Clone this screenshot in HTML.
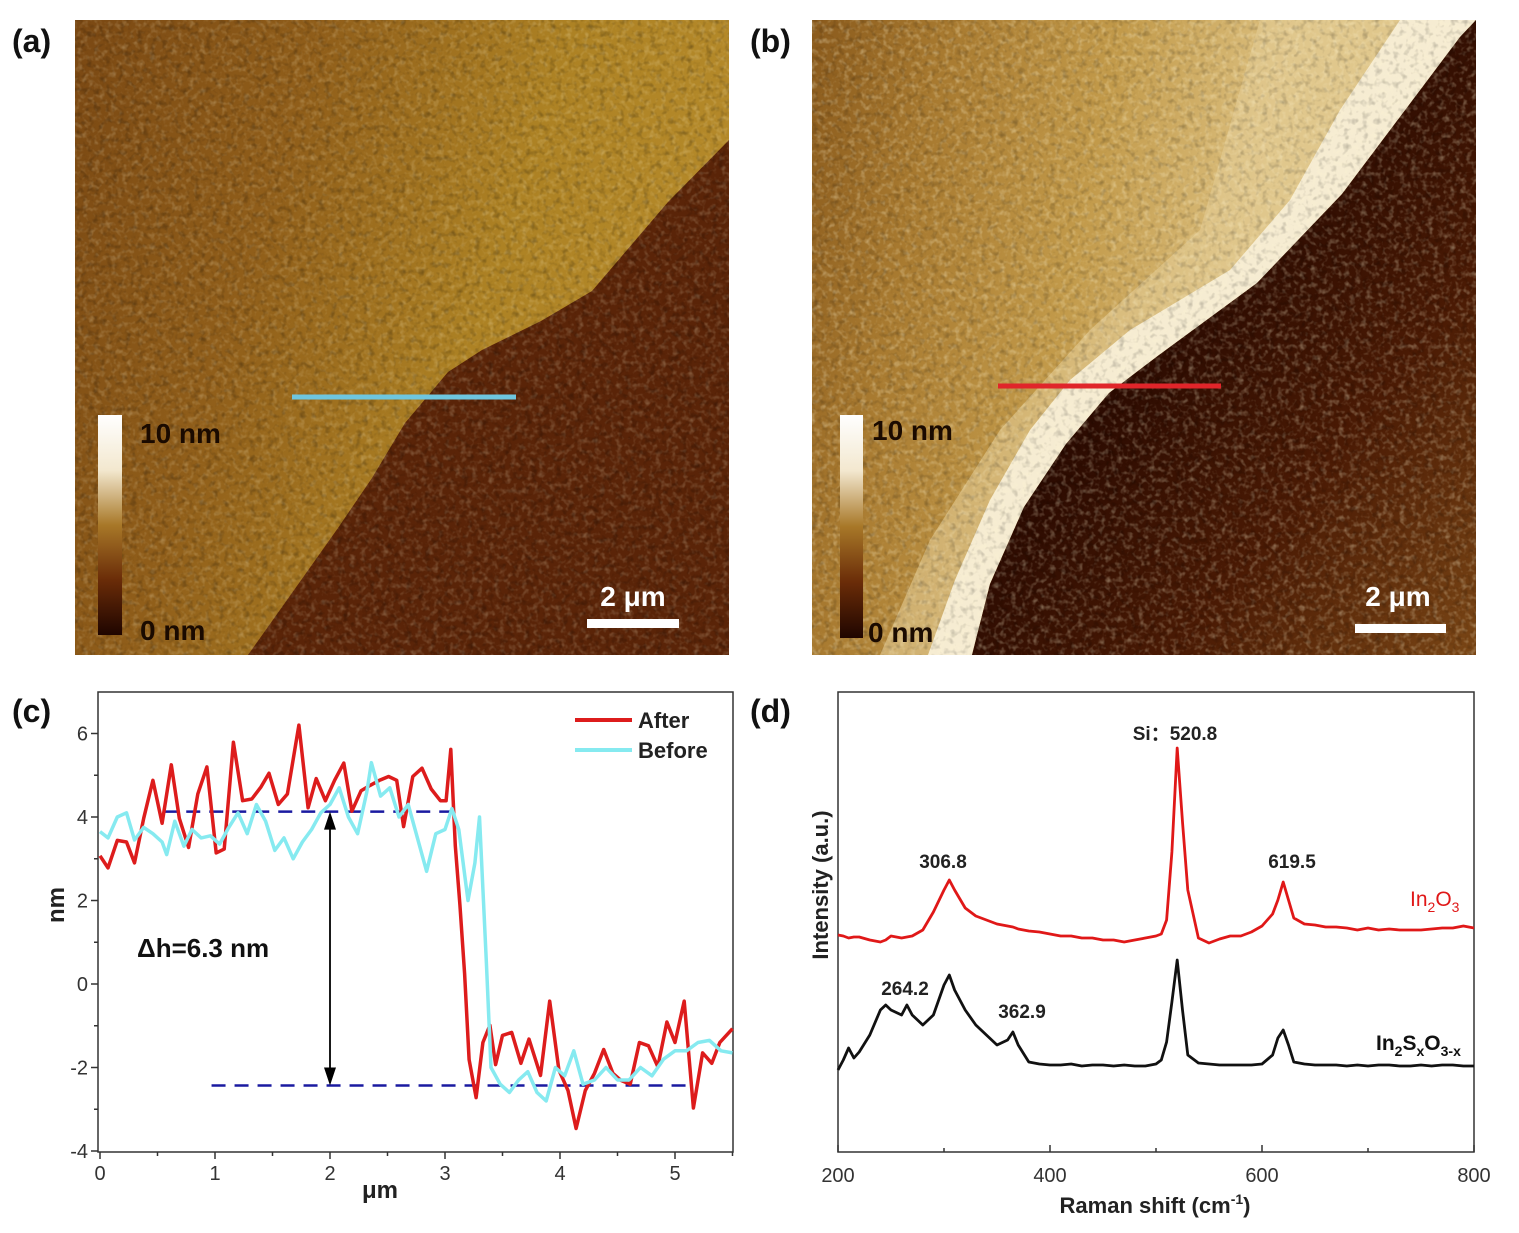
<!DOCTYPE html>
<html><head><meta charset="utf-8"><style>
body{margin:0;background:#fff;}
svg{display:block;font-family:"Liberation Sans",Arial,sans-serif;}
</style></head><body>
<svg id="fig" width="1519" height="1233" viewBox="0 0 1519 1233">
<defs>
<filter id="noise" x="0" y="0" width="100%" height="100%">
<feTurbulence type="fractalNoise" baseFrequency="0.18" numOctaves="2" seed="3" result="t"/>
<feColorMatrix type="matrix" values="0 0 0 0 1  0 0 0 0 0.92  0 0 0 0 0.65  0 0 0 1.8 -0.85"/>
</filter>
<filter id="noise2" x="0" y="0" width="100%" height="100%">
<feTurbulence type="fractalNoise" baseFrequency="0.16" numOctaves="2" seed="8"/>
<feColorMatrix type="matrix" values="0 0 0 0 0  0 0 0 0 0  0 0 0 0 0  0 0 0 1.8 -0.9"/>
</filter>
<linearGradient id="gA" x1="0" y1="0" x2="1" y2="0.3">
<stop offset="0" stop-color="#7a4813"/><stop offset="0.35" stop-color="#905e1a"/><stop offset="0.7" stop-color="#ad8224"/><stop offset="1" stop-color="#b58a2a"/></linearGradient>
<linearGradient id="gB" x1="0" y1="0" x2="1" y2="0.2">
<stop offset="0" stop-color="#8a5a1c"/><stop offset="0.2" stop-color="#a87a30"/><stop offset="0.45" stop-color="#c29a4a"/><stop offset="0.7" stop-color="#dcc080"/></linearGradient>
<linearGradient id="gBd" x1="0" y1="0" x2="1" y2="1">
<stop offset="0.35" stop-color="#220600"/><stop offset="0.7" stop-color="#4a1a04"/><stop offset="1" stop-color="#7a4615"/></linearGradient>
<linearGradient id="cbar" x1="0" y1="1" x2="0" y2="0">
<stop offset="0" stop-color="#1f0500"/><stop offset="0.25" stop-color="#6a2c08"/><stop offset="0.5" stop-color="#a87828"/><stop offset="0.75" stop-color="#f3e8cf"/><stop offset="1" stop-color="#ffffff"/></linearGradient>
</defs>

<!-- Panel a -->
<g>
<rect x="75" y="20" width="654" height="635" fill="url(#gA)"/>
<polygon points="729,140 668,202 592,291 541,321 482,350 448,372 405,423 372,478 338,528 287,600 248,655 729,655" fill="#5a2408"/>
<rect x="75" y="20" width="654" height="635" filter="url(#noise)" opacity="0.3"/>
<rect x="75" y="20" width="654" height="635" filter="url(#noise2)" opacity="0.35"/>
<line x1="292" y1="397" x2="516" y2="397" stroke="#6ec6df" stroke-width="5"/>
<rect x="98" y="415" width="24" height="220" fill="url(#cbar)"/>
<text x="140" y="443" font-size="28" font-weight="bold" fill="#1a0a00">10 nm</text>
<text x="140" y="640" font-size="28" font-weight="bold" fill="#1a0a00">0 nm</text>
<rect x="587" y="619" width="92" height="9" fill="#fff"/>
<text x="633" y="606" font-size="28" font-weight="bold" fill="#fff" text-anchor="middle">2 μm</text>
</g>

<!-- Panel b -->
<g>
<rect x="812" y="20" width="664" height="635" fill="url(#gB)"/>
<polygon points="1260,20 1476,20 1300,230 1150,340 1060,430 1000,540 960,655 880,655 930,540 1000,430 1090,330 1200,230" fill="#e2cc94" opacity="0.6"/>
<polygon points="1400,20 1476,20 1460,37 1342,194 1257,283 1159,355 1109,393 1066,444 1024,507 990,584 972,655 928,655 955,580 990,500 1030,430 1070,380 1130,330 1230,270 1290,200 1340,110" fill="#f6ecd2"/>
<polygon points="1476,20 1460,37 1342,194 1257,283 1159,355 1109,393 1066,444 1024,507 990,584 972,655 1476,655" fill="url(#gBd)"/>
<rect x="812" y="20" width="664" height="635" filter="url(#noise)" opacity="0.45"/>
<rect x="812" y="20" width="664" height="635" filter="url(#noise2)" opacity="0.3"/>
<line x1="998" y1="386" x2="1221" y2="386" stroke="#e0252a" stroke-width="5"/>
<rect x="840" y="415" width="23" height="223" fill="url(#cbar)"/>
<text x="872" y="440" font-size="28" font-weight="bold" fill="#1a0a00">10 nm</text>
<text x="868" y="642" font-size="28" font-weight="bold" fill="#1a0a00">0 nm</text>
<rect x="1355" y="624" width="91" height="9" fill="#fff"/>
<text x="1398" y="606" font-size="28" font-weight="bold" fill="#fff" text-anchor="middle">2 μm</text>
</g>

<g font-size="32" font-weight="bold" fill="#111">
<text x="12" y="52">(a)</text>
<text x="750" y="52">(b)</text>
<text x="12" y="722">(c)</text>
<text x="750" y="722">(d)</text>
</g>

<g id="chartC"></g>
<g id="chartD"></g>
</svg>
<script>
const NS='http://www.w3.org/2000/svg';
function mk(parent,tag,attrs,txt){const e=document.createElementNS(NS,tag);for(const k in attrs)e.setAttribute(k,attrs[k]);if(txt!==undefined)e.textContent=txt;parent.appendChild(e);return e;}

// ---- Chart C data ----
const afterX=[0,0.07,0.15,0.23,0.3,0.38,0.46,0.54,0.62,0.69,0.77,0.85,0.93,1.01,1.08,1.16,1.24,1.32,1.4,1.47,1.55,1.63,1.73,1.81,1.88,1.96,2.04,2.12,2.19,2.27,2.35,2.43,2.51,2.58,2.64,2.72,2.8,2.88,2.96,3.01,3.05,3.09,3.13,3.17,3.21,3.27,3.33,3.39,3.44,3.5,3.58,3.66,3.73,3.83,3.91,3.99,4.07,4.14,4.22,4.3,4.38,4.46,4.53,4.61,4.69,4.77,4.85,4.93,5.0,5.08,5.16,5.24,5.32,5.39,5.5];
const afterY=[3.07,2.78,3.44,3.4,2.9,3.97,4.88,3.85,5.25,3.97,3.27,4.55,5.2,3.14,3.23,5.79,4.39,4.43,4.72,5.05,4.3,4.55,6.2,4.22,4.92,4.39,4.88,5.29,4.14,4.63,4.76,4.88,4.97,4.88,3.77,4.97,5.17,4.67,4.39,4.39,5.62,3.31,1.9,0.25,-1.81,-2.72,-1.4,-0.99,-1.93,-1.23,-1.16,-1.9,-1.32,-2.19,-0.41,-2.06,-2.55,-3.46,-2.55,-2.14,-1.57,-2.14,-2.31,-2.4,-1.4,-1.48,-1.98,-0.91,-1.4,-0.41,-2.97,-1.65,-1.9,-1.4,-1.07];
const beforeX=[0,0.07,0.15,0.23,0.3,0.38,0.46,0.54,0.58,0.65,0.73,0.8,0.88,0.96,1.04,1.12,1.2,1.28,1.36,1.44,1.52,1.6,1.68,1.76,1.84,1.92,2.0,2.08,2.16,2.24,2.32,2.36,2.44,2.52,2.6,2.68,2.76,2.84,2.92,3.0,3.06,3.12,3.2,3.26,3.3,3.36,3.4,3.48,3.56,3.64,3.72,3.8,3.88,3.96,4.04,4.12,4.2,4.3,4.4,4.5,4.6,4.7,4.8,4.9,5.0,5.1,5.2,5.3,5.4,5.5];
const beforeY=[3.65,3.5,4.0,4.1,3.45,3.75,3.6,3.4,3.1,3.9,3.3,3.7,3.5,3.55,3.35,3.75,4.1,3.6,4.3,3.9,3.2,3.5,3.0,3.4,3.7,4.1,4.3,4.7,4.0,3.6,4.6,5.3,4.5,4.7,4.0,4.3,3.5,2.7,3.6,3.7,4.2,3.7,2.0,2.9,4.0,0.5,-2.0,-2.4,-2.6,-2.3,-2.1,-2.6,-2.8,-2.0,-2.2,-1.6,-2.4,-2.3,-2.0,-2.3,-2.3,-2.0,-2.2,-1.8,-1.6,-1.6,-1.4,-1.35,-1.6,-1.65];
const cXTicks=[0,1,2,3,4,5];
const cYTicks=[-4,-2,0,2,4,6];
const upperLevel=4.13, lowerLevel=-2.43;

(function(){
const g=document.getElementById('chartC');
const L=98,R=733,T=692,B=1152;
const xs=v=>100+v*115, ys=v=>984-v*41.75;
const ax=mk(g,'rect',{x:L,y:T,width:R-L,height:B-T,fill:'none',stroke:'#333','stroke-width':1.5});


for(let v=0;v<=5.5;v+=0.5){const x=xs(v);mk(g,'line',{x1:x,y1:B,x2:x,y2:B+(v%1===0?7:4),stroke:'#333','stroke-width':1.5});}
for(let v=-4;v<=7;v+=1){const y=ys(v);if(y<T)continue;mk(g,'line',{x1:L,y1:y,x2:L-(v%2===0?7:4),y2:y,stroke:'#333','stroke-width':1.5});}
cXTicks.forEach(v=>{const t=mk(g,'text',{x:xs(v),y:B+28,'font-size':20,fill:'#333','text-anchor':'middle'},String(v));});
cYTicks.forEach(v=>{const t=mk(g,'text',{x:L-10,y:ys(v)+7,'font-size':20,fill:'#333','text-anchor':'end'},String(v));});
const yt=mk(g,'text',{x:64,y:905,'font-size':24,'font-weight':'bold',fill:'#222','text-anchor':'middle',transform:'rotate(-90 64 905)'},'nm');

const xt=mk(g,'text',{x:380,y:1198,'font-size':24,'font-weight':'bold',fill:'#222','text-anchor':'middle'},'μm');

const d1=mk(g,'line',{x1:xs(0.55),y1:ys(upperLevel),x2:xs(3.1),y2:ys(upperLevel),stroke:'#1a1aa0','stroke-width':2.5,'stroke-dasharray':'14 9'});

const d2=mk(g,'line',{x1:xs(0.97),y1:ys(lowerLevel),x2:xs(5.1),y2:ys(lowerLevel),stroke:'#1a1aa0','stroke-width':2.5,'stroke-dasharray':'14 9'});

const pts=(X,Y)=>X.map((x,i)=>xs(x).toFixed(1)+','+ys(Y[i]).toFixed(1)).join(' ');
const pa=mk(g,'polyline',{points:pts(afterX,afterY),fill:'none',stroke:'#dd1c1c','stroke-width':3.5,'stroke-linejoin':'round'});

const pb=mk(g,'polyline',{points:pts(beforeX,beforeY),fill:'none',stroke:'#86eaf0','stroke-width':3.5,'stroke-linejoin':'round'});

const ax2=xs(2),y1=ys(upperLevel),y2=ys(lowerLevel);
const ar=mk(g,'line',{x1:ax2,y1:y1+14,x2:ax2,y2:y2-14,stroke:'#000','stroke-width':1.8});

mk(g,'polygon',{points:`${ax2},${y1} ${ax2-6},${y1+18} ${ax2+6},${y1+18}`,fill:'#000'});
mk(g,'polygon',{points:`${ax2},${y2} ${ax2-6},${y2-18} ${ax2+6},${y2-18}`,fill:'#000'});
const dh=mk(g,'text',{x:137,y:957,'font-size':26,'font-weight':'bold',fill:'#111'},'Δh=6.3 nm');

const l1=mk(g,'line',{x1:575,y1:720,x2:632,y2:720,stroke:'#dd1c1c','stroke-width':4});

const t1=mk(g,'text',{x:638,y:728,'font-size':22,'font-weight':'bold',fill:'#222'},'After');

const l2=mk(g,'line',{x1:575,y1:750,x2:632,y2:750,stroke:'#86eaf0','stroke-width':4});

const t2=mk(g,'text',{x:638,y:758,'font-size':22,'font-weight':'bold',fill:'#222'},'Before');

})();

// ---- Chart D data ----
const ramanX=[200,205,210,215,220,230,240,245,250,260,265,270,280,290,300,305,310,320,330,340,350,360,365,370,380,390,400,410,420,430,440,450,460,470,480,490,500,505,510,515,520,525,530,540,550,560,570,580,590,600,610,615,620,625,630,640,650,660,670,680,690,700,710,720,730,740,750,760,770,780,790,800];
const in2o3=[217,216,214,215,215,212,210,212,216,214,215,216,222,240,262,272,262,244,236,232,228,226,225,223,221,220,218,216,216,214,214,212,212,210,212,214,216,218,232,300,404,330,262,214,209,213,216,216,220,226,238,252,270,252,234,228,227,225,225,224,222,224,222,223,222,222,222,223,224,224,226,224];
const in2sxo=[82,92,104,94,100,117,142,147,142,137,147,137,127,137,167,177,162,142,127,117,107,112,120,107,90,88,87,87,88,86,87,87,86,87,86,86,88,92,110,150,192,142,97,89,88,87,87,87,87,88,97,114,122,107,90,88,87,87,87,86,87,86,87,87,86,86,87,86,87,87,86,86];
const dXTicks=[200,400,600,800];

(function(){
const g=document.getElementById('chartD');
const L=838,R=1474,T=692,B=1152;
const xs=v=>L+(v-200)*(R-L)/600, ys=v=>B-v;
const fr=mk(g,'rect',{x:L,y:T,width:R-L,height:B-T,fill:'none',stroke:'#333','stroke-width':1.5});

for(let v=200;v<=800;v+=100){mk(g,'line',{x1:xs(v),y1:B,x2:xs(v),y2:B-(v%200===0?7:4),stroke:'#333','stroke-width':1.5});}
dXTicks.forEach(v=>{const t=mk(g,'text',{x:xs(v),y:B+30,'font-size':20,fill:'#333','text-anchor':'middle'},String(v));});
const xt=mk(g,'text',{x:1155,y:1213,'font-size':22,'font-weight':'bold',fill:'#222','text-anchor':'middle'});

xt.innerHTML='Raman shift (cm<tspan dy="-9" font-size="14">-1</tspan><tspan dy="9">)</tspan>';
const yt=mk(g,'text',{x:828,y:885,'font-size':22,'font-weight':'bold',fill:'#222','text-anchor':'middle',transform:'rotate(-90 828 885)'},'Intensity (a.u.)');

const pts=Y=>ramanX.map((x,i)=>xs(x).toFixed(1)+','+ys(Y[i]).toFixed(1)).join(' ');
const s1=mk(g,'polyline',{points:pts(in2o3),fill:'none',stroke:'#e01818','stroke-width':2.8,'stroke-linejoin':'round'});

const s2=mk(g,'polyline',{points:pts(in2sxo),fill:'none',stroke:'#111','stroke-width':2.8,'stroke-linejoin':'round'});

const ann=[['Si：520.8',1175,740],['306.8',943,868],['619.5',1292,868],['264.2',905,995],['362.9',1022,1018]];
ann.forEach(a=>{const t=mk(g,'text',{x:a[1],y:a[2],'font-size':19,'font-weight':'bold',fill:'#222','text-anchor':'middle'},a[0]);});
const r=mk(g,'text',{x:1410,y:906,'font-size':21,fill:'#e01818'});

r.innerHTML='In<tspan dy="6" font-size="14">2</tspan><tspan dy="-6">O</tspan><tspan dy="6" font-size="14">3</tspan>';
const k=mk(g,'text',{x:1376,y:1050,'font-size':21,'font-weight':'bold',fill:'#111'});

k.innerHTML='In<tspan dy="6" font-size="14">2</tspan><tspan dy="-6">S</tspan><tspan dy="6" font-size="14">x</tspan><tspan dy="-6">O</tspan><tspan dy="6" font-size="14">3-x</tspan>';
})();
</script>
</body></html>
